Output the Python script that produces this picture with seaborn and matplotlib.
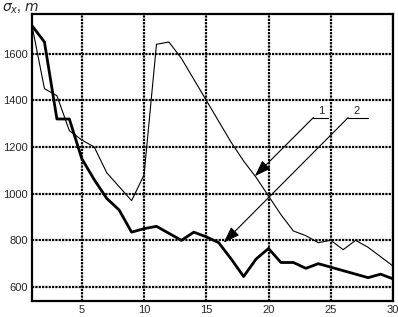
import matplotlib.pyplot as plt
import numpy as np
import pandas as pd
import seaborn as sns

# Values
steps = list(range(1, 31))
sigma_1 = [1720, 1450, 1420, 1270, 1230, 1200, 1090, 1030, 970, 1080,
           1640, 1650, 1580, 1490, 1400, 1310, 1220, 1140, 1070, 990,
           910, 840, 820, 790, 800, 760, 800, 770, 730, 690]
sigma_2 = [1720, 1650, 1320, 1320, 1150, 1060, 980, 930, 835, 850,
           860, 830, 800, 835, 815, 790, 720, 645, 720, 765,
           705, 705, 680, 700, 685, 670, 655, 640, 655, 635]
x_ticks = [5, 10, 15, 20, 25, 30]
y_ticks = [600, 800, 1000, 1200, 1400, 1600]

df = pd.DataFrame({"step": steps * 2,
                   "sigma": sigma_1 + sigma_2,
                   "curve": ["1"] * len(steps) + ["2"] * len(steps)})

sns.set_style("white")
plt.rcParams["font.family"] = ["Liberation Sans", "DejaVu Sans"]

fig = plt.figure(figsize=(3.98, 3.17), dpi=100)
ax = fig.add_axes([32 / 398, 16 / 317, 361 / 398, 287 / 317])

sns.lineplot(data=df, x="step", y="sigma", hue="curve", size="curve",
             sizes={"1": 0.8, "2": 2.0}, palette={"1": "black", "2": "black"},
             legend=False, ax=ax)

ax.set_xlim(1, 30)
ax.set_ylim(540, 1770)
ax.set_xticks(x_ticks)
ax.set_yticks(y_ticks)
ax.grid(True, color="black", linestyle=(0, (1, 0.5)), linewidth=1.6)
ax.tick_params(length=0, labelsize=8, pad=3)
for s in ax.spines.values():
    s.set_color("black")
    s.set_linewidth(1.6)
ax.set_xlabel("")
ax.set_ylabel("")
fig.text(0.005, 0.995, r"$\sigma_x$, $m$", ha="left", va="top", fontsize=10)

# leader lines with labels
arrow = dict(arrowstyle="-|>,head_length=1.0,head_width=0.35", color="black",
             lw=0.8, shrinkA=0, shrinkB=0)
ax.annotate("", xy=(18.9, 1075), xytext=(23.6, 1326), arrowprops=arrow)
ax.plot([23.6, 24.8], [1326, 1326], color="black", lw=0.8)
ax.text(24.2, 1332, "1", ha="center", va="bottom", fontsize=8)
ax.annotate("", xy=(16.4, 790), xytext=(26.4, 1326), arrowprops=arrow)
ax.plot([26.4, 28.0], [1326, 1326], color="black", lw=0.8)
ax.text(27.1, 1332, "2", ha="center", va="bottom", fontsize=8)

fig.savefig("out.png", dpi=100)
